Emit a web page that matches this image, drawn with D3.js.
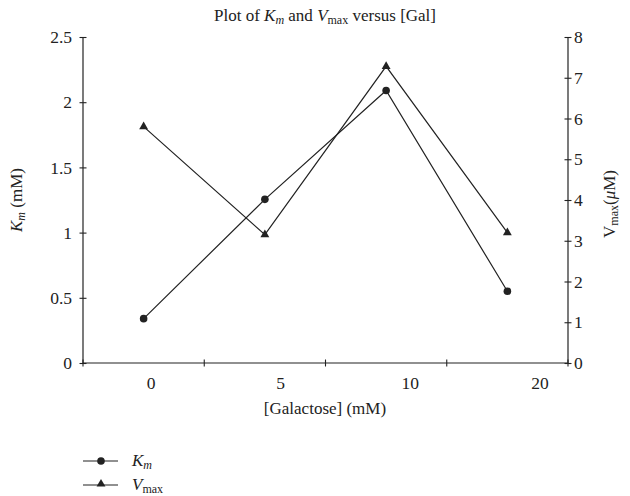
<!DOCTYPE html>
<html>
<head>
<meta charset="utf-8">
<script src="https://cdn.jsdelivr.net/npm/d3@7"></script>
<style>
  html, body { margin: 0; padding: 0; background: #fff; }
  svg { display: block; }
  text { font-family: "Liberation Serif", "DejaVu Serif", serif; fill: #222; }
</style>
</head>
<body>
<svg id="chart" width="630" height="496"></svg>
<script>
// Galactose concentrations (mM) and the fitted kinetic constants
const categories = ["0", "5", "10", "20"];
const kmValues = [0.34, 1.255, 2.09, 0.55];     // Km (mM)
const vmaxValues = [5.8, 3.15, 7.28, 3.2];      // Vmax (µM)
const kmTicks = [0, 0.5, 1, 1.5, 2, 2.5];
const vmaxTicks = [0, 1, 2, 3, 4, 5, 6, 7, 8];

const svg = d3.select("#chart");
const ink = "#222";
const tickFont = "17.5px";
const labelFont = "17px";
const plotLeft = 83, plotRight = 568, plotTop = 37, plotBottom = 363;

const x = d3.scaleBand().domain(categories).range([plotLeft, plotRight]).padding(0);
const xLabel = d3.scalePoint().domain(categories).range([151, 540]);
const yKm = d3.scaleLinear().domain([0, 2.5]).range([plotBottom, plotTop]);
const yV = d3.scaleLinear().domain([0, 8]).range([plotBottom, plotTop]);
const cx = c => x(c) + x.bandwidth() / 2;

// Title
const title = svg.append("text").attr("x", 325).attr("y", 21)
  .attr("text-anchor", "middle").style("font-size", labelFont);
title.append("tspan").text("Plot of ");
title.append("tspan").attr("font-style", "italic").text("K");
title.append("tspan").attr("font-style", "italic").attr("font-size", "12px").attr("dy", 3).text("m");
title.append("tspan").attr("dy", -3).text(" and ");
title.append("tspan").attr("font-style", "italic").text("V");
title.append("tspan").attr("font-size", "12px").attr("dy", 3).text("max");
title.append("tspan").attr("dy", -3).text(" versus [Gal]");

// Left axis
const gl = svg.append("g").attr("transform", `translate(${plotLeft},0)`)
  .call(d3.axisLeft(yKm).tickValues(kmTicks).tickSize(0).tickPadding(11).tickFormat(d3.format("")));
gl.select(".domain").remove();
gl.selectAll("text").style("font-size", tickFont).style("font-family", "Liberation Serif, serif").attr("fill", ink);
gl.append("line").attr("y1", yKm(0)).attr("y2", yKm(2.5)).attr("stroke", ink).attr("stroke-width", 1.2);
gl.selectAll(".tick").append("line").attr("x1", -3.5).attr("x2", 3.5).attr("stroke", ink).attr("stroke-width", 1.1);

// Right axis
const gr = svg.append("g").attr("transform", `translate(${plotRight},0)`)
  .call(d3.axisRight(yV).tickValues(vmaxTicks).tickSize(0).tickPadding(6).tickFormat(d3.format("")));
gr.select(".domain").remove();
gr.selectAll("text").style("font-size", tickFont).style("font-family", "Liberation Serif, serif").attr("fill", ink);
gr.append("line").attr("y1", yV(0)).attr("y2", yV(8)).attr("stroke", ink).attr("stroke-width", 1.2);
gr.selectAll(".tick").append("line").attr("x1", -3.5).attr("x2", 3.5).attr("stroke", ink).attr("stroke-width", 1.1);

// Bottom axis: ticks at category boundaries, labels offset to the right
const gb = svg.append("g").attr("transform", `translate(0,${plotBottom})`);
gb.append("line").attr("x1", plotLeft).attr("x2", plotRight).attr("stroke", ink).attr("stroke-width", 1.2);
const bounds = categories.map(c => x(c)).concat([x(categories[categories.length - 1]) + x.bandwidth()]);
gb.selectAll("line.tk").data(bounds).join("line").attr("class", "tk")
  .attr("x1", d => d).attr("x2", d => d).attr("y1", -3.5).attr("y2", 3.5)
  .attr("stroke", ink).attr("stroke-width", 1.1);
gb.selectAll("text.lb").data(categories).join("text").attr("class", "lb")
  .attr("x", d => xLabel(d)).attr("y", 26).attr("text-anchor", "middle")
  .style("font-size", tickFont).text(d => d);

// Axis titles
svg.append("text").attr("x", 325).attr("y", 414).attr("text-anchor", "middle")
  .style("font-size", labelFont).text("[Galactose] (mM)");

const yl = svg.append("text").attr("transform", "translate(22,200) rotate(-90)")
  .attr("text-anchor", "middle").style("font-size", labelFont);
yl.append("tspan").attr("font-style", "italic").text("K");
yl.append("tspan").attr("font-style", "italic").attr("font-size", "12px").attr("dy", 3).text("m");
yl.append("tspan").attr("dy", -3).text(" (mM)");

const yr = svg.append("text").attr("transform", "translate(615,204) rotate(-90)")
  .attr("text-anchor", "middle").style("font-size", labelFont);
yr.append("tspan").text("V");
yr.append("tspan").attr("font-size", "12px").attr("dy", 3).text("max");
yr.append("tspan").attr("dy", -3).text("(");
yr.append("tspan").attr("font-style", "italic").text("μ");
yr.append("tspan").text("M)");

// Series
const plot = svg.append("g");
const lineKm = d3.line().x((d, i) => cx(categories[i])).y(d => yKm(d));
const lineV = d3.line().x((d, i) => cx(categories[i])).y(d => yV(d));
plot.append("path").datum(kmValues).attr("d", lineKm).attr("fill", "none").attr("stroke", ink).attr("stroke-width", 1.2);
plot.append("path").datum(vmaxValues).attr("d", lineV).attr("fill", "none").attr("stroke", ink).attr("stroke-width", 1.2);

const tri = d3.symbol().type(d3.symbolTriangle).size(34);
plot.selectAll("circle.km").data(kmValues).join("circle").attr("class", "km")
  .attr("cx", (d, i) => cx(categories[i])).attr("cy", d => yKm(d)).attr("r", 3.8).attr("fill", ink);
plot.selectAll("path.vm").data(vmaxValues).join("path").attr("class", "vm")
  .attr("d", tri).attr("transform", (d, i) => `translate(${cx(categories[i])},${yV(d)})`).attr("fill", ink);

// Legend
const lg = svg.append("g");
const rows = [{ y: 461, sym: "circle", main: "K", sub: "m", subItalic: true },
              { y: 485, sym: "triangle", main: "V", sub: "max", subItalic: false }];
rows.forEach(r => {
  lg.append("line").attr("x1", 83).attr("x2", 118).attr("y1", r.y).attr("y2", r.y)
    .attr("stroke", ink).attr("stroke-width", 1.2);
  if (r.sym === "circle") {
    lg.append("circle").attr("cx", 101).attr("cy", r.y).attr("r", 3.8).attr("fill", ink);
  } else {
    lg.append("path").attr("d", tri).attr("transform", `translate(101,${r.y - 1})`).attr("fill", ink);
  }
  const t = lg.append("text").attr("x", 132).attr("y", r.y + 5).style("font-size", labelFont);
  t.append("tspan").attr("font-style", "italic").text(r.main);
  t.append("tspan").attr("font-style", r.subItalic ? "italic" : "normal")
    .attr("font-size", "12px").attr("dy", 2.5).text(r.sub);
});
</script>
</body>
</html>
